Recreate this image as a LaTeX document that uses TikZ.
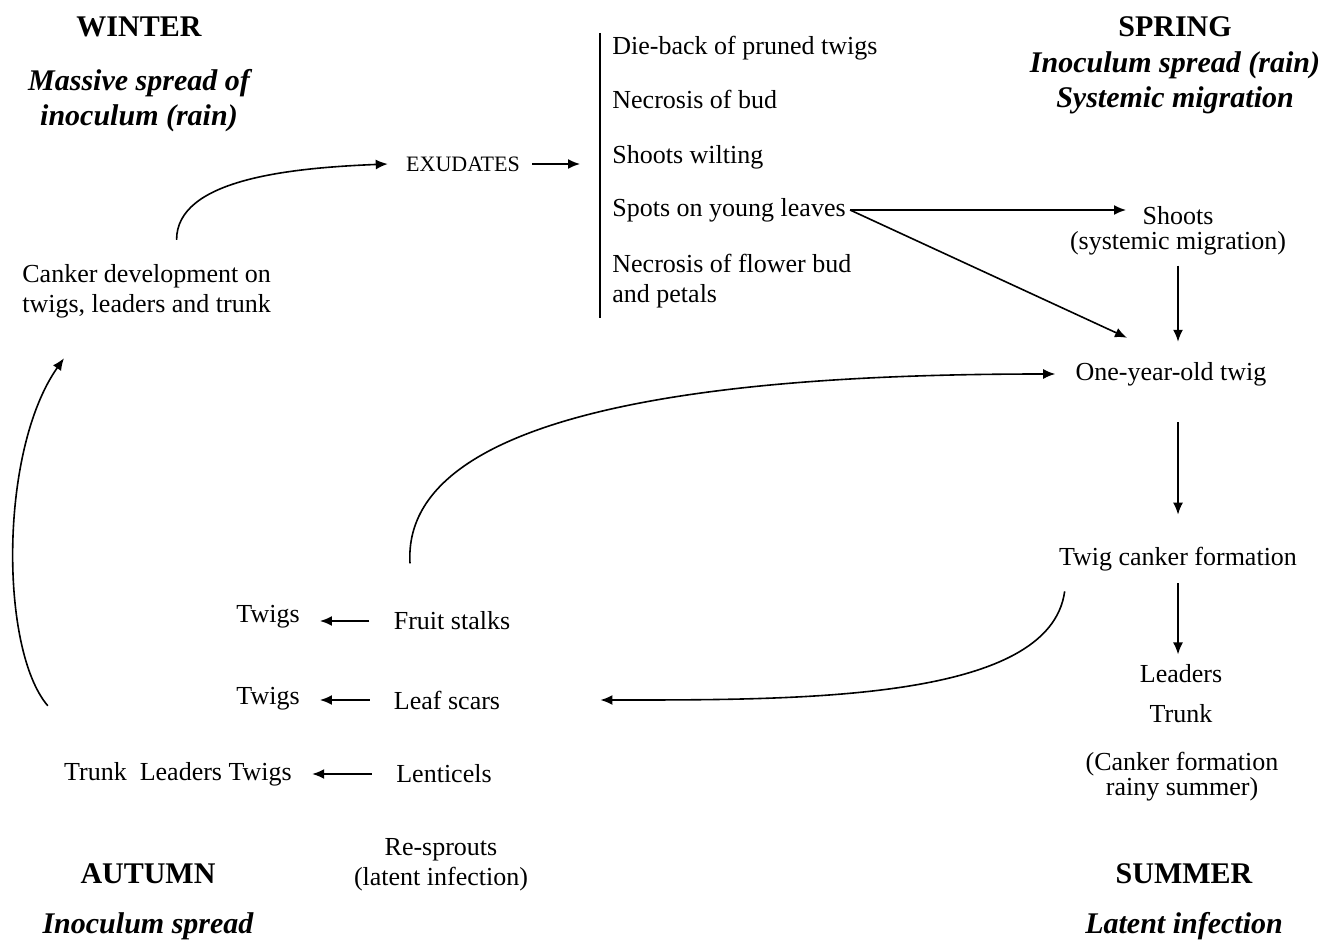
\documentclass[tikz,border=0pt]{standalone}
\usepackage{fontspec}
\setmainfont{Liberation Serif}
\usetikzlibrary{arrows.meta}

\begin{document}
\begin{tikzpicture}[x=0.5pt, y=-0.5pt,
    txt/.style={font=\fontsize{13}{15}\selectfont, inner sep=2pt, align=center},
    item/.style={txt, anchor=west, align=left},
    season/.style={font=\fontsize{15}{18}\selectfont\bfseries, inner sep=2pt},
    seasonnote/.style={font=\fontsize{15}{17.5}\selectfont\bfseries\itshape, align=center, inner sep=2pt},
    flow/.style={-{Latex[length=6pt,width=5pt]}, line width=0.8pt}]
    \useasboundingbox (0,0) rectangle (1331,940);

    % Winter
    \node [season] (winter) at (139,27) {WINTER};
    \node [seasonnote] (winternote) at (139,101) {Massive spread of\\inoculum (rain)};
    \node [item, font=\fontsize{13}{15}\selectfont] (canker) at (18,291) {Canker development on\\twigs, leaders and trunk};

    % Symptoms
    \node [txt, font=\fontsize{11}{13}\selectfont] (exu) at (463,164) {EXUDATES};
    \coordinate (bartop) at (600,33);
    \coordinate (barbot) at (600,318);
    \node [item] (dieback) at (608,48) {Die-back of pruned twigs};
    \node [item] (necbud) at (608,99) {Necrosis of bud};
    \node [item] (wilting) at (608,157) {Shoots wilting};
    \node [item] (spots) at (608,210) {Spots on young leaves};
    \node [item] (necflower) at (608,281) {Necrosis of flower bud\\and petals};

    % Spring
    \node [season] (spring) at (1175,27) {SPRING};
    \node [seasonnote] (springnote) at (1175,83) {Inoculum spread (rain)\\Systemic migration};
    \node [txt, font=\fontsize{13}{12.5}\selectfont] (shoots) at (1178,231) {Shoots\\(systemic migration)};
    \node [txt] (oneyear) at (1171,374) {One-year-old twig};

    % Summer
    \node [txt] (twigcanker) at (1178,559) {Twig canker formation};
    \node [txt] (leaders) at (1181,674) {Leaders};
    \node [txt] (trunk) at (1181,714) {Trunk};
    \node [txt, font=\fontsize{13}{12.5}\selectfont] (cankersummer) at (1182,777) {(Canker formation\\rainy summer)};
    \node [season] (summer) at (1184,874) {SUMMER};
    \node [seasonnote] (summernote) at (1184,926) {Latent infection};

    % Autumn
    \node [txt] (twigsa) at (268,617) {Twigs};
    \node [txt] (fruit) at (452,621) {Fruit stalks};
    \node [txt] (twigsb) at (268,699) {Twigs};
    \node [txt] (leafscars) at (447,700) {Leaf scars};
    \node [txt] (tlt) at (178,774) {Trunk\ \ Leaders Twigs};
    \node [txt] (lenticels) at (444,774) {Lenticels};
    \node [txt] (resprouts) at (441,865) {Re-sprouts\\(latent infection)};
    \node [season] (autumn) at (148,874) {AUTUMN};
    \node [seasonnote] (autumnnote) at (148,926) {Inoculum spread};

    % Arrows
    \draw [flow] ([xshift=15pt,yshift=10pt]canker.north) .. controls +(0,-60) and +(-100,4) .. ([xshift=-7pt]exu.west);
    \draw [flow, shorten <=4pt, shorten >=10pt] (exu.east) -- (exu.east -| bartop);
    \draw [line width=0.8pt] (bartop) -- (barbot);
    \draw [flow] (spots.east) -- ([xshift=-26pt]shoots.north |- spots.east);
    \draw [flow] (spots.east) -- ([xshift=-22pt,yshift=10pt]oneyear.north);
    \draw [flow, shorten <=3pt, shorten >=8pt] (shoots.south) -- (shoots.south |- oneyear.north);
    \draw [flow, shorten <=16pt, shorten >=14pt] (oneyear.south -| twigcanker.north) -- (twigcanker.north);
    \draw [flow, shorten <=4pt, shorten >=3pt] (twigcanker.south) -- (twigcanker.south |- leaders.north);
    \draw [flow] ([xshift=5pt,yshift=-8pt]twigcanker.south west) .. controls +(-15,110) and +(200,0) .. ([xshift=48pt]leafscars.east);
    \draw [flow] ([xshift=-21pt,yshift=22pt]fruit.north) .. controls +(-10,-170) and +(-260,0) .. ([xshift=-8pt]oneyear.west);
    \draw [flow, shorten <=10pt, shorten >=8pt] (fruit.west) -- (fruit.west -| twigsa.east);
    \draw [flow, shorten <=10pt, shorten >=8pt] (leafscars.west) -- (leafscars.west -| twigsb.east);
    \draw [flow, shorten <=10pt, shorten >=8pt] (lenticels.west) -- (lenticels.west -| tlt.east);
    \draw [flow] ([xshift=-6pt,yshift=26pt]tlt.north west) .. controls +(-48,-56) and +(-65,92) .. ([xshift=23pt,yshift=-18pt]canker.south west);
\end{tikzpicture}
\end{document}
